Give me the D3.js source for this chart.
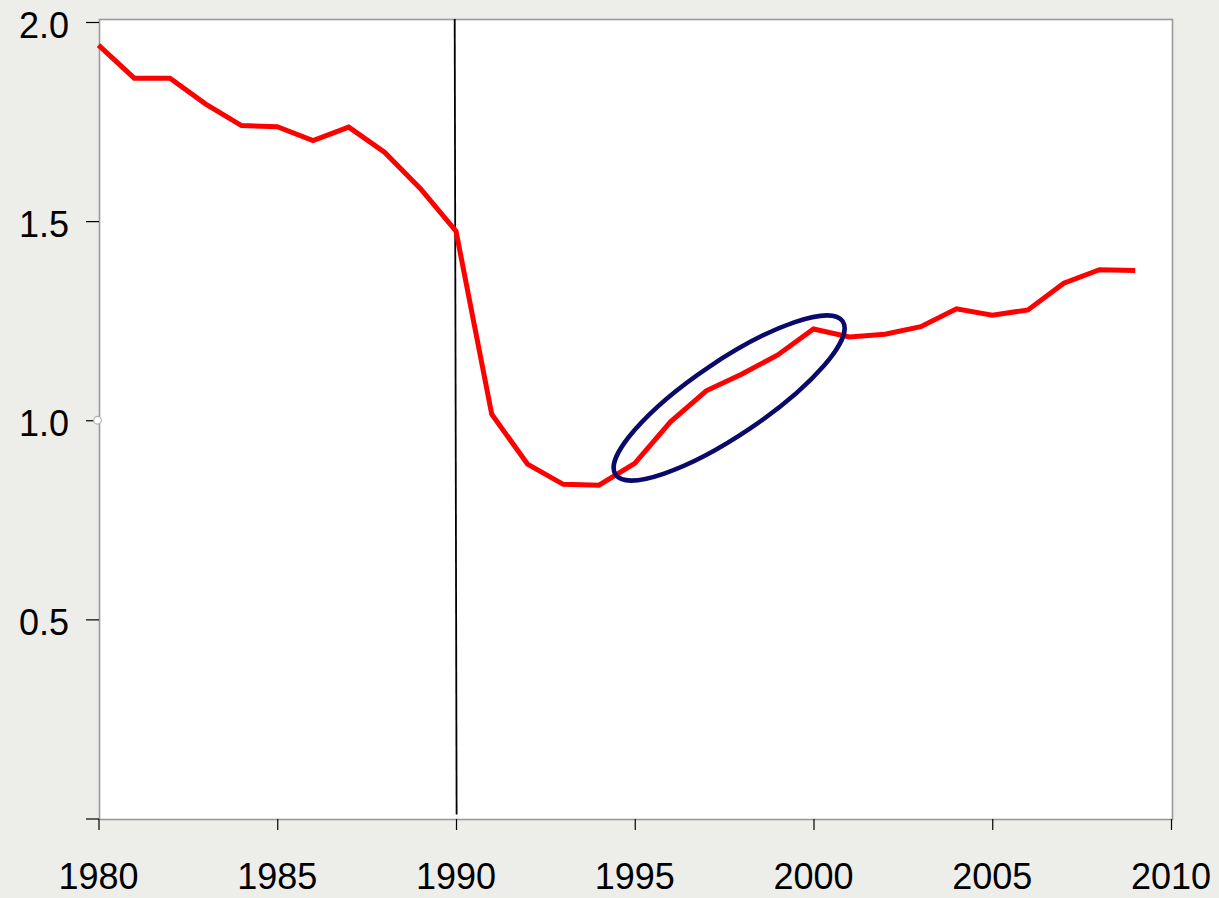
<!DOCTYPE html>
<html>
<head>
<meta charset="utf-8">
<script src="https://cdn.jsdelivr.net/npm/d3@7"></script>
<style>
html,body{margin:0;padding:0;background:#ededea;}
svg{display:block;}
text{font-family:"Liberation Sans",Arial,Helvetica,sans-serif;}
</style>
</head>
<body>
<svg id="chart" width="1219" height="898"></svg>
<script>
const years = [1980,1981,1982,1983,1984,1985,1986,1987,1988,1989,1990,1991,1992,1993,1994,1995,1996,1997,1998,1999,2000,2001,2002,2003,2004,2005,2006,2007,2008,2009];
const values = [1.942,1.859,1.859,1.794,1.740,1.737,1.702,1.736,1.673,1.582,1.475,1.015,0.890,0.839,0.837,0.892,0.996,1.074,1.116,1.164,1.229,1.209,1.216,1.235,1.280,1.264,1.277,1.344,1.378,1.376];
const xTicks = [1980,1985,1990,1995,2000,2005,2010];
const yTicks = [0,0.5,1.0,1.5,2.0];
const yTickLabels = ["","0.5","1.0","1.5","2.0"];
const markerYear = 1990;
const ellipseCenter = {year:1997.64, value:1.056};

const svg = d3.select("#chart");
const W = 1219, H = 898;
svg.append("rect").attr("width",W).attr("height",H).attr("fill","#ededea");

const x = d3.scaleLinear().domain([1980,2010]).range([98.5,1171]);
const y = d3.scaleLinear().domain([0,2]).range([818.5,22]);

// plot area
svg.append("rect")
  .attr("x",99.5).attr("y",19.5)
  .attr("width",1172.5-99.5).attr("height",819.5-19.5)
  .attr("fill","#ffffff").attr("stroke","#9a9a9a").attr("stroke-width",1.6);

// y axis ticks
const yAxis = d3.axisLeft(y).tickValues(yTicks).tickSize(13).tickFormat("");
const gy = svg.append("g").attr("transform","translate(99,0)").call(yAxis);
gy.select(".domain").remove();
gy.selectAll(".tick line").attr("stroke","#000").attr("stroke-width",1.2);
svg.append("g").selectAll("text").data(yTicks).join("text")
  .attr("x",69).attr("y",d=>y(d)+15.5)
  .attr("text-anchor","end").attr("font-size",36).attr("fill","#000")
  .text((d,i)=>yTickLabels[i]);

// x axis ticks
const xAxis = d3.axisBottom(x).tickValues(xTicks).tickSize(11).tickFormat("");
const gx = svg.append("g").attr("transform","translate(0,819)").call(xAxis);
gx.select(".domain").remove();
gx.selectAll(".tick line").attr("stroke","#000").attr("stroke-width",1.2);
svg.append("g").selectAll("text").data(xTicks).join("text")
  .attr("x",d=>x(d)).attr("y",889)
  .attr("text-anchor","middle").attr("font-size",36).attr("fill","#000")
  .text(d=>d);

// vertical marker line at 1990
svg.append("line")
  .attr("x1",x(markerYear)-1.3).attr("y1",19)
  .attr("x2",x(markerYear)+0.6).attr("y2",y(0)-4)
  .attr("stroke","#000").attr("stroke-width",1.8);

// series line
const line = d3.line().x((d,i)=>x(years[i])).y(d=>y(d));
svg.append("path").datum(values)
  .attr("d",line).attr("fill","none")
  .attr("stroke","#ff0000").attr("stroke-width",5)
  .attr("stroke-linejoin","miter");

// ellipse annotation
svg.append("ellipse")
  .attr("transform",`translate(${x(ellipseCenter.year)},${y(ellipseCenter.value)}) rotate(-34)`)
  .attr("rx",137).attr("ry",37)
  .attr("fill","none").attr("stroke","#0a0a6a").attr("stroke-width",4.5);

// small marker on y axis at 1.0
svg.append("circle")
  .attr("cx",97.5).attr("cy",y(1.0)).attr("r",3.8)
  .attr("fill","#ffffff").attr("stroke","#b0b0b0").attr("stroke-width",1.2);
</script>
</body>
</html>
